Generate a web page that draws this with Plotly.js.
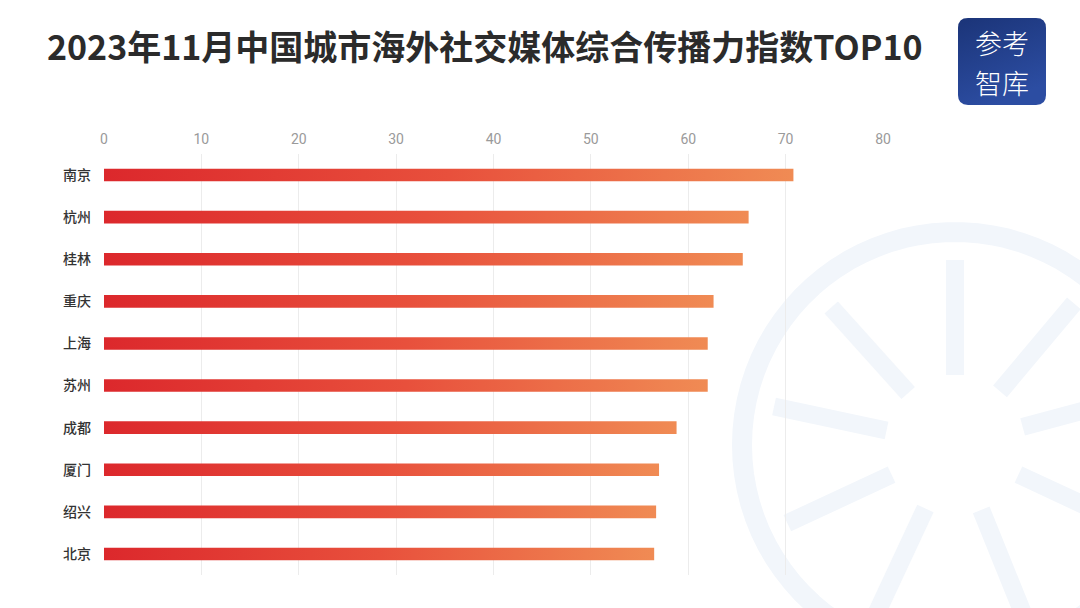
<!DOCTYPE html>
<html>
<head>
<meta charset="utf-8">
<script src="https://cdn.plot.ly/plotly-3.0.1.min.js"></script>
<style>
html,body{margin:0;padding:0;background:#fff;}
#chart{width:1080px;height:608px;}
</style>
</head>
<body>
<div id="chart"></div>
<script>
const cities = ["南京","杭州","桂林","重庆","上海","苏州","成都","厦门","绍兴","北京"];
const values = [70.8, 66.2, 65.6, 62.6, 62.0, 62.0, 58.8, 57.0, 56.7, 56.5];
const xTicks = [0,10,20,30,40,50,60,70,80];
const titleText = "2023年11月中国城市海外社交媒体综合传播力指数TOP10";
const logoLines = ["参考","智库"];

const W = 1080, H = 608;
const M = {l:104, r:197, t:154, b:33};
const PW = W - M.l - M.r, PH = H - M.t - M.b;
const px = x => (x - M.l) / PW;
const py = y => (H - M.b - y) / PH;

function roundRect(x0, y0, x1, y1, r) {
  const X = v => px(v).toFixed(5), Y = v => py(v).toFixed(5);
  return `M${X(x0+r)},${Y(y0)} L${X(x1-r)},${Y(y0)} Q${X(x1)},${Y(y0)} ${X(x1)},${Y(y0+r)} ` +
         `L${X(x1)},${Y(y1-r)} Q${X(x1)},${Y(y1)} ${X(x1-r)},${Y(y1)} L${X(x0+r)},${Y(y1)} ` +
         `Q${X(x0)},${Y(y1)} ${X(x0)},${Y(y1-r)} L${X(x0)},${Y(y0+r)} Q${X(x0)},${Y(y0)} ${X(x0+r)},${Y(y0)} Z`;
}
function circlePath(cx, cy, r) {
  const pts = [];
  for (let i = 0; i <= 90; i++) {
    const a = i / 90 * 2 * Math.PI;
    pts.push((i ? 'L' : 'M') + px(cx + r*Math.cos(a)).toFixed(5) + ',' + py(cy + r*Math.sin(a)).toFixed(5));
  }
  return pts.join(' ') + ' Z';
}
function spokePath(cx, cy, r0, r1, deg) {
  const a = deg * Math.PI / 180;
  return `M${px(cx + r0*Math.cos(a)).toFixed(5)},${py(cy - r0*Math.sin(a)).toFixed(5)} ` +
         `L${px(cx + r1*Math.cos(a)).toFixed(5)},${py(cy - r1*Math.sin(a)).toFixed(5)}`;
}

const trace = {
  type: 'bar',
  orientation: 'h',
  y: cities,
  x: values,
  width: 0.3,
  marker: {color: '#e8503a', line: {width: 0}},
  hoverinfo: 'skip'
};

const wmColor = '#f2f6fb';
const shapes = [
  {type:'path', xref:'paper', yref:'paper', path: circlePath(955, 445, 213),
   line:{color: wmColor, width:20}, fillcolor:'rgba(0,0,0,0)', layer:'below'}
];
[90, 132, 168, 205, 245, 292, 335, 15, 50].forEach(d => {
  shapes.push({type:'path', xref:'paper', yref:'paper', path: spokePath(955, 445, 70, 185, d),
    line:{color: wmColor, width:18}, layer:'below'});
});
shapes.push({type:'path', xref:'paper', yref:'paper', path: roundRect(958, 18, 1046, 105, 10),
   line:{width:0}, fillcolor:'#22408f', layer:'above'});

const annotations = [
  {xref:'paper', yref:'paper', x: px(1002), y: py(42.5), text: logoLines[0], showarrow:false,
   font:{family:'Noto Sans CJK SC', size:27, color:'#ffffff', weight:300}, xanchor:'center', yanchor:'middle'},
  {xref:'paper', yref:'paper', x: px(1002), y: py(82), text: logoLines[1], showarrow:false,
   font:{family:'Noto Sans CJK SC', size:27, color:'#ffffff', weight:300}, xanchor:'center', yanchor:'middle'}
];

const layout = {
  width: W, height: H,
  margin: M,
  paper_bgcolor: '#ffffff',
  plot_bgcolor: 'rgba(0,0,0,0)',
  showlegend: false,
  title: {
    text: titleText,
    x: 47 / W, xref: 'container', xanchor: 'left',
    y: 1 - 48 / H, yref: 'container', yanchor: 'middle',
    font: {family: 'Noto Sans CJK SC', size: 34, color: '#2b2b2b', weight: 700}
  },
  xaxis: {
    side: 'top',
    range: [0, 80],
    tickvals: xTicks,
    ticktext: xTicks.map(String),
    showgrid: true, gridcolor: '#ececec', gridwidth: 1,
    zeroline: false, showline: false, ticks: '',
    ticklabelstandoff: 6,
    tickfont: {family: 'Roboto, Noto Sans CJK SC', size: 14, color: '#9a9a9a'},
    fixedrange: true
  },
  yaxis: {
    type: 'category',
    autorange: 'reversed',
    showgrid: false, zeroline: false, showline: false, ticks: '',
    ticklabelstandoff: 12,
    tickfont: {family: 'Noto Sans CJK SC', size: 14, color: '#333333', weight: 500},
    fixedrange: true
  },
  shapes: shapes,
  annotations: annotations
};

Plotly.newPlot('chart', [trace], layout, {staticPlot: true, displayModeBar: false}).then(gd => {
  const svg = gd.querySelector('svg.main-svg');
  const NS = 'http://www.w3.org/2000/svg';
  const defs = document.createElementNS(NS, 'defs');
  const g = document.createElementNS(NS, 'linearGradient');
  g.setAttribute('id', 'barGrad');
  g.setAttribute('x1', '0'); g.setAttribute('y1', '0');
  g.setAttribute('x2', '1'); g.setAttribute('y2', '0');
  [['0', '#dc282c'], ['0.5', '#e8503c'], ['1', '#f08b54']].forEach(([o, c]) => {
    const s = document.createElementNS(NS, 'stop');
    s.setAttribute('offset', o); s.setAttribute('stop-color', c);
    g.appendChild(s);
  });
  defs.appendChild(g);
  svg.insertBefore(defs, svg.firstChild);
  gd.querySelectorAll('.bars .point path').forEach(p => { p.style.fill = 'url(#barGrad)'; });

  const lg = document.createElementNS(NS, 'linearGradient');
  lg.setAttribute('id', 'logoGrad');
  lg.setAttribute('x1', '0'); lg.setAttribute('y1', '0');
  lg.setAttribute('x2', '0.4'); lg.setAttribute('y2', '1');
  [['0', '#1b3478'], ['1', '#2c4da2']].forEach(([o, c]) => {
    const s = document.createElementNS(NS, 'stop');
    s.setAttribute('offset', o); s.setAttribute('stop-color', c);
    lg.appendChild(s);
  });
  defs.appendChild(lg);
  const shapePaths = gd.querySelectorAll('.layer-above .shapelayer path');
  if (shapePaths.length) shapePaths[shapePaths.length - 1].style.fill = 'url(#logoGrad)';
});
</script>
</body>
</html>
